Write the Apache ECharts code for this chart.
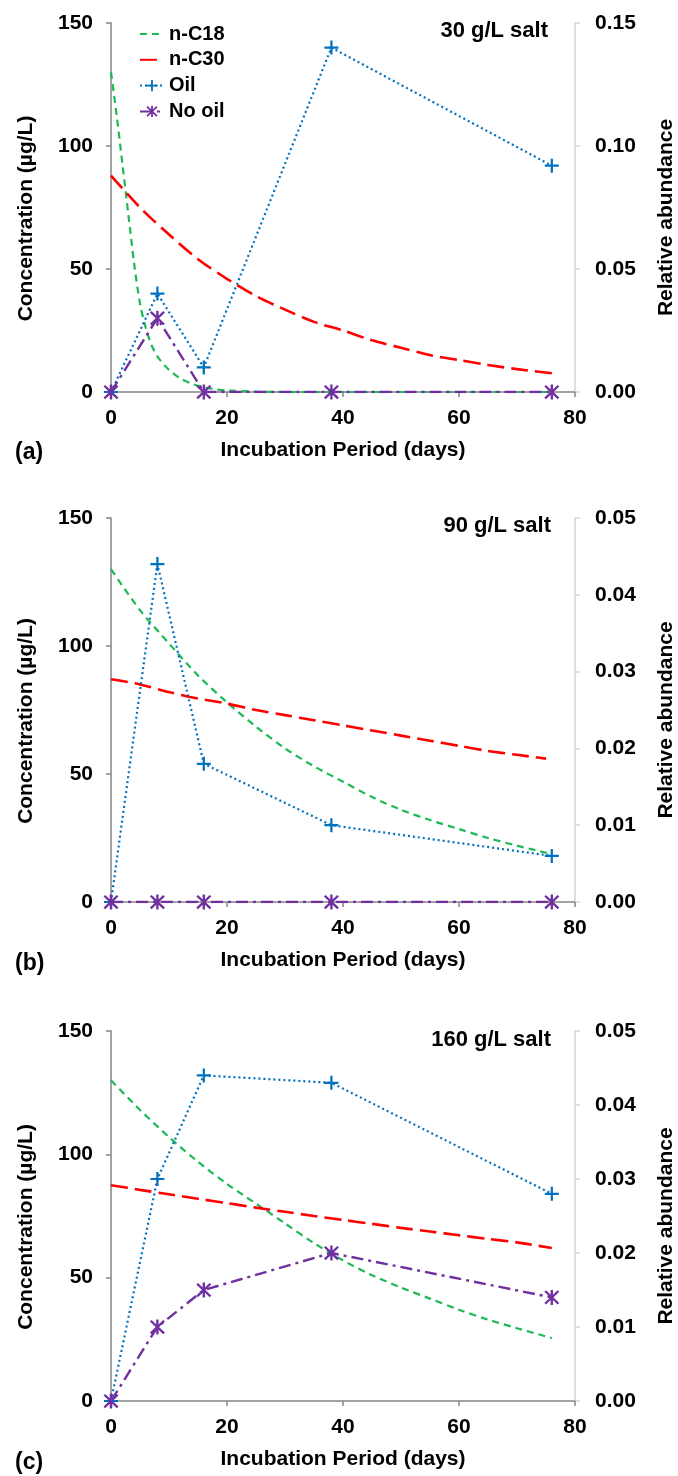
<!DOCTYPE html>
<html>
<head>
<meta charset="utf-8">
<script src="https://cdn.jsdelivr.net/npm/echarts@6/dist/echarts.min.js"></script>
<style>
html,body{margin:0;padding:0;background:#fff;}
#chart{width:678px;height:1476px;}
</style>
</head>
<body>
<div id="chart"></div>
<script>
// ---------- data ----------
const sampleDays = [0, 8, 16, 38, 76];
const xTicks = [0, 20, 40, 60, 80];
const seriesNames = ['n-C18', 'n-C30', 'Oil', 'No oil'];
const saltLabels = ['30 g/L salt', '90 g/L salt', '160 g/L salt'];
const panelLabels = ['(a)', '(b)', '(c)'];

// Relative abundance (right axis)
const oilA   = [0, 0.040, 0.010, 0.140, 0.092];
const noOilA = [0, 0.030, 0, 0, 0];
const oilB   = [0, 0.044, 0.018, 0.010, 0.006];
const noOilB = [0, 0, 0, 0, 0];
const oilC   = [0, 0.030, 0.044, 0.043, 0.028];
const noOilC = [0, 0.010, 0.015, 0.020, 0.014];

// Concentration curves (left axis)
const c18DaysA = [0, 1, 2, 3, 4, 5, 6, 7, 8, 9, 10, 12, 14, 16, 18, 20, 25, 30, 40, 50, 60, 70, 76];
const c18A     = [130, 112, 92, 72, 52, 36, 26, 19, 14.5, 11.5, 9, 5.5, 3.3, 2, 1.1, 0.6, 0.15, 0, 0, 0, 0, 0, 0];
const c30DaysA = [0, 5, 10, 15, 20, 25, 30, 35, 40, 45, 50, 55, 60, 65, 70, 76];
const c30A     = [88, 75, 64, 54, 46, 39, 33.5, 28.5, 25, 21, 18, 15, 13, 11, 9.3, 7.6];

const c18DaysB = [0, 5, 10, 15, 20, 25, 30, 35, 40, 45, 50, 55, 60, 65, 70, 76];
const c18B     = [130, 114, 101, 88.5, 78, 68.5, 60, 53, 47, 41, 36, 32, 28.5, 25, 22, 18.7];
const c30DaysB = [0, 5, 10, 15, 20, 25, 30, 35, 40, 45, 50, 55, 60, 65, 70, 75];
const c30B     = [87, 85, 82, 79.5, 77.5, 75, 73, 71, 69, 67, 65, 63, 61, 59, 57.5, 56];

const c18DaysC = [0, 5, 10, 15, 20, 25, 30, 35, 40, 45, 50, 55, 60, 65, 70, 76];
const c18C     = [130, 118, 107, 97, 88, 80, 72, 64, 57, 51, 46, 41.5, 37, 33, 29.5, 25.5];
const c30DaysC = [0, 5, 10, 15, 20, 25, 30, 35, 40, 45, 50, 55, 60, 65, 70, 76];
const c30C     = [87.5, 85.6, 83.8, 82, 80.2, 78.4, 76.7, 75, 73.4, 71.8, 70.2, 68.7, 67.2, 65.7, 64.3, 62];

const rightMax = [0.15, 0.05, 0.05];
const rightInterval = [0.05, 0.01, 0.01];

// ---------- styling / layout ----------
const FONT = '"Liberation Sans", Arial, Helvetica, sans-serif';
const C_GREEN = '#1db954', C_RED = '#ff0000', C_BLUE = '#0070c0', C_PURPLE = '#7030a0';
const PLUS = 'path://M8.4,0H11.6V8.4H20V11.6H11.6V20H8.4V11.6H0V8.4H8.4Z';
const STAR = 'path://M8.5,0L11.5,0L11.5,20L8.5,20Z M0.5,2.6L2.6,0.5L19.5,17.4L17.4,19.5Z M17.4,0.5L19.5,2.6L2.6,19.5L0.5,17.4Z';

const grids = [
  {top: 23, height: 369},
  {top: 518, height: 384},
  {top: 1031, height: 370}
];
const saltPos = [{right: 130, top: 20}, {right: 127, top: 515}, {right: 127, top: 1029}];
const labelPos = [{left: 15, top: 441}, {left: 15, top: 952}, {left: 15, top: 1451}];

const panels = [
  {oil: oilA, noOil: noOilA, c18d: c18DaysA, c18: c18A, c30d: c30DaysA, c30: c30A},
  {oil: oilB, noOil: noOilB, c18d: c18DaysB, c18: c18B, c30d: c30DaysB, c30: c30B},
  {oil: oilC, noOil: noOilC, c18d: c18DaysC, c18: c18C, c30d: c30DaysC, c30: c30C}
];

function pairs(xs, ys) { return xs.map((x, i) => [x, ys[i]]); }

const txt = {fontFamily: FONT, fontSize: 21, fontWeight: 'bold', color: '#000'};
const axisGray = {color: '#858585', width: 1.5};
const axisLight = {color: '#d6d6d6', width: 1.5};
const hiddenSymbol = {color: 'rgba(0,0,0,0)', borderColor: 'rgba(0,0,0,0)', borderWidth: 0};

const option = {
  animation: false,
  backgroundColor: '#fff',
  title: [],
  legend: {
    data: [
      {name: seriesNames[0], itemStyle: hiddenSymbol},
      {name: seriesNames[1], itemStyle: hiddenSymbol},
      {name: seriesNames[2]},
      {name: seriesNames[3]}
    ],
    orient: 'vertical',
    left: 139, top: 24,
    padding: 0,
    itemGap: 5.8,
    itemWidth: 24, itemHeight: 14,
    textStyle: Object.assign({}, txt, {fontSize: 20}),
    selectedMode: false
  },
  grid: [],
  xAxis: [],
  yAxis: [],
  series: []
};

panels.forEach((p, i) => {
  option.grid.push({left: 111, right: 103, top: grids[i].top, height: grids[i].height,
    containLabel: false, outerBoundsMode: 'none'});
  option.title.push({text: saltLabels[i], right: saltPos[i].right, top: saltPos[i].top, padding: 0,
    textStyle: Object.assign({}, txt, {fontSize: 22})});
  option.title.push({text: panelLabels[i], left: labelPos[i].left, top: labelPos[i].top, padding: 0,
    textStyle: Object.assign({}, txt, {fontSize: 23})});
  option.xAxis.push({
    type: 'value', gridIndex: i, min: 0, max: 80, interval: 20,
    axisLine: {show: true, onZero: false, lineStyle: axisGray},
    axisTick: {show: true, length: 5, lineStyle: axisGray},
    splitLine: {show: false},
    axisLabel: Object.assign({margin: 16}, txt),
    name: 'Incubation Period (days)', nameLocation: 'middle', nameGap: 48,
    nameTextStyle: txt
  });
  option.yAxis.push({
    type: 'value', gridIndex: i, position: 'left', min: 0, max: 150, interval: 50,
    axisLine: {show: true, onZero: false, lineStyle: axisGray},
    axisTick: {show: true, length: 5, lineStyle: axisGray},
    splitLine: {show: false},
    axisLabel: Object.assign({margin: 18}, txt),
    name: 'Concentration (µg/L)', nameLocation: 'middle', nameRotate: 90, nameGap: 74,
    nameTextStyle: Object.assign({padding: [0, 22, 0, 0]}, txt)
  });
  option.yAxis.push({
    type: 'value', gridIndex: i, position: 'right', min: 0, max: rightMax[i], interval: rightInterval[i],
    axisLine: {show: true, onZero: false, lineStyle: axisLight},
    axisTick: {show: true, length: 5, lineStyle: axisLight},
    splitLine: {show: false},
    axisLabel: Object.assign({margin: 20, formatter: v => v.toFixed(2)}, txt),
    name: 'Relative abundance', nameLocation: 'middle', nameRotate: 90, nameGap: 81,
    nameTextStyle: Object.assign({padding: [0, 20, 0, 0]}, txt)
  });
  option.series.push({
    name: 'n-C18', type: 'line', xAxisIndex: i, yAxisIndex: 2 * i,
    data: pairs(p.c18d, p.c18), smooth: 0.3, symbol: 'none', showSymbol: false,
    lineStyle: {color: C_GREEN, width: 2.2, type: [7, 5]}, itemStyle: {color: C_GREEN}, z: 3
  });
  option.series.push({
    name: 'n-C30', type: 'line', xAxisIndex: i, yAxisIndex: 2 * i,
    data: pairs(p.c30d, p.c30), smooth: 0.3, symbol: 'none', showSymbol: false,
    lineStyle: {color: C_RED, width: 2.6, type: [17, 7]}, itemStyle: {color: C_RED}, z: 3
  });
  option.series.push({
    name: 'Oil', type: 'line', xAxisIndex: i, yAxisIndex: 2 * i + 1,
    data: pairs(sampleDays, p.oil), symbol: PLUS, symbolSize: 14, showSymbol: true,
    lineStyle: {color: C_BLUE, width: 2.2, type: [2, 3]}, itemStyle: {color: C_BLUE}, z: 4
  });
  option.series.push({
    name: 'No oil', type: 'line', xAxisIndex: i, yAxisIndex: 2 * i + 1,
    data: pairs(sampleDays, p.noOil), symbol: STAR, symbolSize: 15, showSymbol: true,
    lineStyle: {color: C_PURPLE, width: 2.4, type: [12, 5, 3, 5]}, itemStyle: {color: C_PURPLE}, z: 5
  });
});

const chart = echarts.init(document.getElementById('chart'), null, {renderer: 'canvas'});
chart.setOption(option);
</script>
</body>
</html>
